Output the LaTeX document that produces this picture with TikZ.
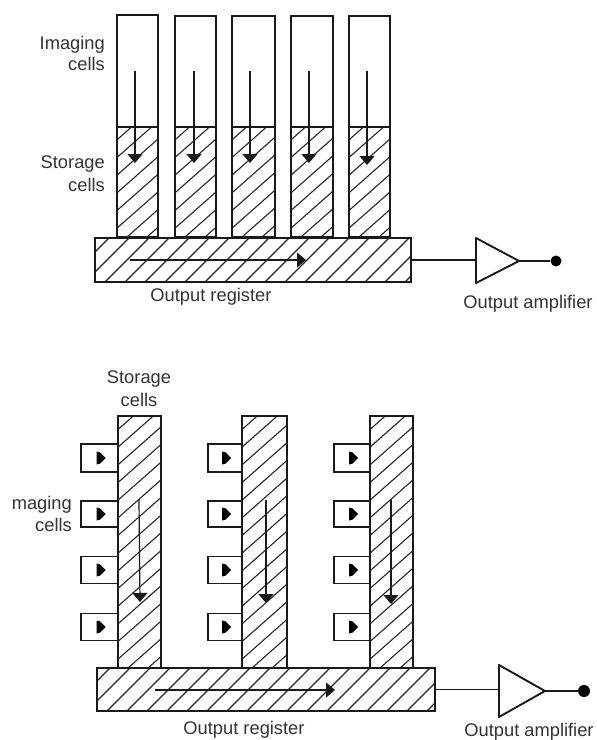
\documentclass[tikz,border=0pt]{standalone}
\usepackage{fontspec}
\setmainfont{Liberation Sans}
\usetikzlibrary{arrows.meta,calc}
\tikzset{
  hatchline/.style={line width=1.1pt,black!85},
  boxed/.style={draw=black!90,line width=1.9pt,inner sep=0pt,outer sep=0pt,anchor=north west,fill=white},
  hatched/.style={boxed,path picture={
    \foreach \k in {-330,-310,...,350}{
      \draw[hatchline] ([xshift=\k pt]path picture bounding box.south west) -- ++(300,-#1);
    }}},
  hatched/.default=265,
  flow/.style={line width=1.2pt,black!90,-{Triangle[width=15pt,length=9pt]}},
  wire/.style={line width=1.5pt,black!90},
  amp/.style={draw=black!90,line width=1.9pt,line join=round,fill=white},
  lbl/.style={font=\fontsize{18.3}{20}\selectfont,text=black!80,inner sep=0pt,align=right},
  lblc/.style={lbl,align=center},
  dot/.style={circle,fill=black,inner sep=0pt,minimum size=#1},
  cellbox/.style={boxed,anchor=west},
  gate/.style={fill=black}
}
\newcommand{\colbox}[6]{% name x top-y width imaging-height storage-height
  \node[boxed,minimum width=#4 pt,minimum height=#5 pt] (#1i) at (#2,#3) {};
  \node[hatched,minimum width=#4 pt,minimum height=#6 pt] (#1s) at (#1i.south west) {};
}
\begin{document}
\begin{tikzpicture}[x=1pt,y=-1pt]
\useasboundingbox (0,0) rectangle (597,740);
% ---- top figure
\colbox{a}{117}{15}{41}{112}{110}
\colbox{b}{175}{16}{41}{111}{110}
\colbox{c}{232}{16}{43}{111}{110}
\colbox{d}{291}{16}{42}{111}{110}
\colbox{e}{349}{16}{41}{111}{110}
\node[hatched=300,minimum width=316pt,minimum height=44pt] (reg1) at (95,238) {};
\coordinate (a1) at (135,71); \coordinate (a2) at (135,163);
\coordinate (b1) at (194,71); \coordinate (b2) at (194,163);
\coordinate (c1) at (250,71); \coordinate (c2) at (250,163);
\coordinate (d1) at (309,71); \coordinate (d2) at (309,163);
\coordinate (e1) at (367,71); \coordinate (e2) at (367,165);
\coordinate (r1) at (130,260); \coordinate (r2) at (306,260);
\foreach \n in {a,b,c,d,e}{\draw[flow] (\n1) -- (\n2);}
\draw[flow] (r1) -- (r2);
\draw[amp] (476,238) coordinate (t1) -- (519,261) coordinate (t2) -- (476,283) -- cycle;
\coordinate (t0) at (476,260);
\node[dot=11pt] (o1) at (556,261) {};
\draw[wire] (reg1.east) -- (t0);
\draw[wire] (t2) -- (o1);
\node[lbl,anchor=east] (l1) at (105,45) {Imaging};
\node[lbl,anchor=east] (l2) at (105,64) {cells};
\node[lbl,anchor=east] (l3) at (105,164) {Storage};
\node[lbl,anchor=east] (l4) at (105,185) {cells};
\node[lblc] (l5) at (211,297) {Output register};
\node[lblc] (l6) at (528,304) {Output amplifier};
% ---- bottom figure
\node[hatched,minimum width=43pt,minimum height=252pt] (p) at (118,416) {};
\node[hatched,minimum width=45pt,minimum height=252pt] (q) at (242,416) {};
\node[hatched,minimum width=43pt,minimum height=252pt] (s) at (370,416) {};
\foreach \col/\xx/\w in {p/81/37,q/208/34,s/334/36}{
  \foreach \row/\yy/\h in {1/458/28,2/514/26,3/570/27,4/627/27}{
    \node[cellbox,minimum width=\w pt,minimum height=\h pt] (\col\row) at (\xx,\yy) {};
    \fill[gate] ($(\col\row.center)+(-3,-6.5)$) .. controls ($(\col\row.center)+(0,-6.5)$) .. ($(\col\row.center)+(6,0)$)
      .. controls ($(\col\row.center)+(0,6.5)$) .. ($(\col\row.center)+(-3,6.5)$) -- cycle;
  }
}
\node[hatched=300,minimum width=338pt,minimum height=43pt] (reg2) at (97,668) {};
\coordinate (p1) at (139,500); \coordinate (p2) at (140,602);
\coordinate (q1) at (266,500); \coordinate (q2) at (266,603);
\coordinate (s1) at (391,500); \coordinate (s2) at (391,604);
\coordinate (u1) at (155,690); \coordinate (u2) at (335,690);
\foreach \n in {p,q,s}{\draw[flow] (\n1) -- (\n2);}
\draw[flow] (u1) -- (u2);
\draw[amp] (499,665) coordinate (v1) -- (545,691) coordinate (v2) -- (499,717) -- cycle;
\coordinate (v0) at (499,689.5);
\node[dot=12pt] (o2) at (584,691) {};
\draw[wire] (reg2.east) -- (v0);
\draw[wire] (v2) -- (o2);
\node[lblc] (m1) at (139,379) {Storage};
\node[lblc] (m2) at (139,400) {cells};
\node[lbl,anchor=east] (m3) at (72,505) {maging};
\node[lbl,anchor=east] (m4) at (72,525) {cells};
\node[lblc] (m5) at (244,730) {Output register};
\node[lblc] (m6) at (529,732) {Output amplifier};
\end{tikzpicture}
\end{document}
